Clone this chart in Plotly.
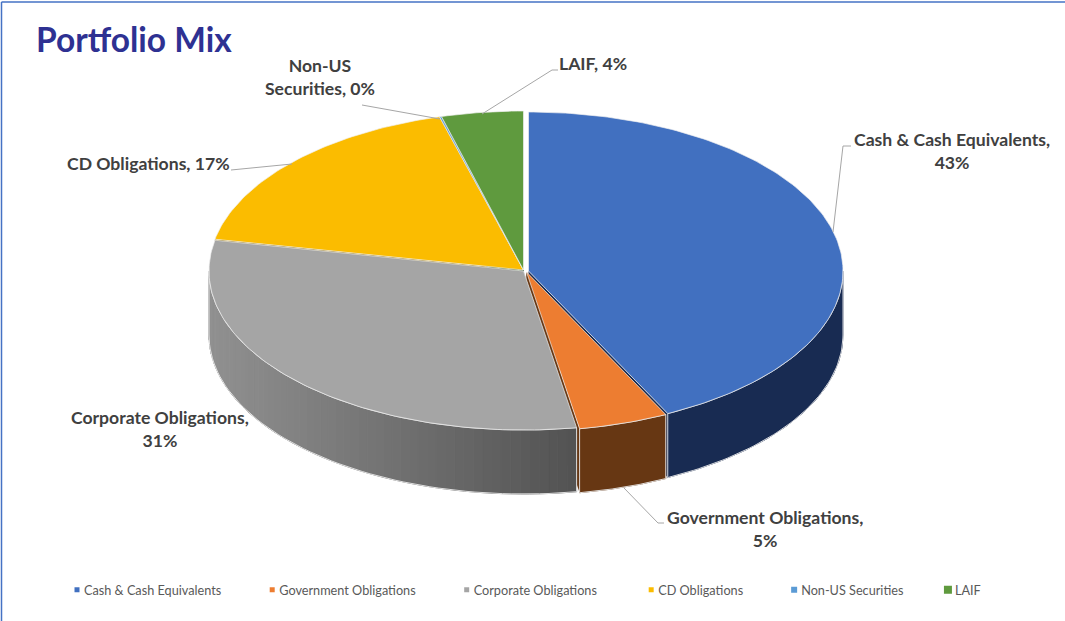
import numpy as np
import plotly.graph_objects as go

categories = ["Cash & Cash Equivalents", "Government Obligations", "Corporate Obligations",
              "CD Obligations", "Non-US Securities", "LAIF"]
values = [42.7, 4.6, 30.8, 17.6, 0.1, 4.2]
top_colors = ["#4170C0", "#ED7D31", "#A5A5A5", "#FBBC00", "#5B9BD5", "#5F9A3E"]
side_left = ["#182B52", "#673713", "#909090", "#8A6800", "#2F5F8A", "#3A5E25"]
side_right = ["#182B52", "#673713", "#535353", "#8A6800", "#2F5F8A", "#3A5E25"]
offsets_x = [4, 2, -1, -1, -1, -1]
offsets_y = [0, 1, 0, -1, -1, -1]
legend_pad = [4, 4, 5, 4, 2, 0]
marker_sizes = [5, 5, 5, 5, 6, 8]

CX, CY, RX, RY, DEPTH = 524.5, 271, 314.5, 159, 64
W, H = 1065, 621
FONT = "Lato"
LEADER = "#A6A6A6"


def hexrgb(c):
    return np.array([int(c[i:i + 2], 16) for i in (1, 3, 5)], dtype=float)


def mix(a, b, f):
    r = hexrgb(a) * (1 - f) + hexrgb(b) * f
    return "rgb(%d,%d,%d)" % tuple(r)


def rim(t, dx, dy, drop=0.0):
    return CX + dx + RX * np.sin(t), CY + dy - RY * np.cos(t) + drop


fig = go.Figure()


def poly(xs, ys, fill=None, line=None, width=1.0):
    fig.add_trace(go.Scatter(
        x=list(xs), y=list(ys), mode="lines", showlegend=False, hoverinfo="skip",
        fill="toself" if fill else "none", fillcolor=fill,
        line=dict(color=line or fill, width=width)))


total = sum(values)
edges = np.cumsum([0] + values) / total * 2 * np.pi
spans = list(zip(edges[:-1], edges[1:]))

# inner walls, seen only through the gaps between slices
for i, (a, b) in enumerate(spans):
    dx, dy = offsets_x[i], offsets_y[i]
    for t in (a, b):
        x, y = rim(t, dx, dy)
        poly([CX + dx, x, x, CX + dx], [CY + dy, y, y + DEPTH, CY + dy + DEPTH],
             fill=side_right[i], line="rgba(0,0,0,0)", width=0)

# outer rim, front half only, shaded across its width
for i, (a, b) in enumerate(spans):
    lo, hi = max(a, np.pi / 2), min(b, 3 * np.pi / 2)
    if hi <= lo:
        continue
    dx, dy = offsets_x[i], offsets_y[i]
    shaded = side_left[i] != side_right[i]
    n = max(4, int((hi - lo) / 0.03)) if shaded else 1
    pts = 4 if shaded else 80
    ts = np.linspace(lo, hi, n + 1)
    for t0, t1 in zip(ts[:-1], ts[1:]):
        seg = np.linspace(t0, t1, pts)
        xs, ys = rim(seg, dx, dy)
        xb, yb = rim(seg[::-1], dx, dy, DEPTH)
        f = np.clip((np.mean(xs) - 215) / (575 - 215), 0, 1) if shaded else 0.5
        c = mix(side_left[i], side_right[i], f)
        poly(list(xs) + list(xb) + [xs[0]], list(ys) + list(yb) + [ys[0]], fill=c)
    # pale outline of the rim panel
    seg = np.linspace(lo, hi, 60)
    xs, ys = rim(seg, dx, dy)
    xb, yb = rim(seg[::-1], dx, dy, DEPTH)
    poly(list(xs) + list(xb) + [xs[0]], list(ys) + list(yb) + [ys[0]],
         line="rgba(235,235,235,0.9)", width=1)

# top faces
for i, (a, b) in enumerate(spans):
    dx, dy = offsets_x[i], offsets_y[i]
    ts = np.linspace(a, b, max(3, int((b - a) * 60)))
    xs, ys = rim(ts, dx, dy)
    poly([CX + dx] + list(xs) + [CX + dx], [CY + dy] + list(ys) + [CY + dy],
         fill=top_colors[i], line="rgba(240,240,240,0.85)", width=0.8)

# legend entries
for i, name in enumerate(categories):
    fig.add_trace(go.Scatter(
        x=[None], y=[None], mode="markers", name=name + "\u00a0" * legend_pad[i],
        marker=dict(symbol="square", size=marker_sizes[i], color=top_colors[i])))

label_texts = [
    ("Cash & Cash Equivalents,<br>43%", 952, 151),
    ("Government Obligations,<br>5%", 765, 529),
    ("Corporate Obligations,<br>31%", 160, 429),
    ("CD Obligations, 17%", 148, 163),
    ("Non-US<br>Securities, 0%", 320, 77),
    ("LAIF, 4%", 593, 63),
]
annotations = [dict(
    x=x, y=y, text=t, showarrow=False, xref="x", yref="y", align="center",
    font=dict(family=FONT, size=17.6, color="#404040", weight=700))
    for t, x, y in label_texts]
annotations.append(dict(
    x=34, y=39, text="Portfolio Mix", showarrow=False, xref="x", yref="y", xanchor="left",
    font=dict(family=FONT, size=33.5, color="#2E3192", weight=700)))

leaders = [
    [(833, 232), (843, 146), (851, 146)],
    [(624, 488), (658, 523), (664, 523)],
    [(362, 105), (440, 119)],
    [(482, 114), (552, 70), (558, 70)],
    [(231, 170), (292, 164)],
]
shapes = []
for pts in leaders:
    path = "M " + " L ".join(f"{x},{y}" for x, y in pts)
    shapes.append(dict(type="path", path=path, xref="x", yref="y",
                       line=dict(color=LEADER, width=1), layer="above"))
shapes.append(dict(type="line", xref="x", yref="y", x0=1.5, x1=W, y0=2, y1=2,
                   line=dict(color="#4472C4", width=1.5)))
shapes.append(dict(type="line", xref="x", yref="y", x0=1.5, x1=1.5, y0=2, y1=H,
                   line=dict(color="#4472C4", width=1.5)))

fig.update_layout(
    width=W, height=H, autosize=False,
    margin=dict(l=0, r=0, t=0, b=0),
    paper_bgcolor="white", plot_bgcolor="white",
    xaxis=dict(range=[0, W], visible=False, fixedrange=True),
    yaxis=dict(range=[H, 0], visible=False, fixedrange=True),
    annotations=annotations, shapes=shapes,
    legend=dict(orientation="h", x=44 / W, xanchor="left", y=1 - 590 / H, yanchor="middle",
                font=dict(family=FONT, size=12.7, color="#595959"),
                itemwidth=30, bgcolor="rgba(0,0,0,0)", itemclick=False, itemdoubleclick=False),
    hovermode=False,
)
post = """
document.body.style.margin = '0';
document.querySelectorAll('.legendsymbols').forEach(function (g) {
  g.setAttribute('transform', 'translate(13,0)');
});
"""
fig.write_html("out.html", post_script=post, config={"displayModeBar": False})
